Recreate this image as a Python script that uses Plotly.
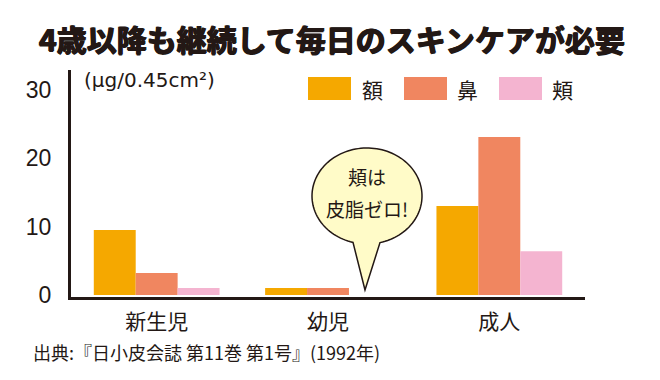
import numpy as np
import plotly.graph_objects as go

categories = ["新生児", "幼児", "成人"]
series_names = ["額", "鼻", "頬"]
forehead = [9.5, 1.0, 13.0]
nose = [3.2, 1.0, 23.1]
cheek = [1.0, 0.0, 6.4]
colors = ["#F5A800", "#F08660", "#F4B4D0"]
y_ticks = [0, 10, 20, 30]

title_text = "4歳以降も継続して毎日のスキンケアが必要"
unit_text = "(μg/0.45cm²)"
source_text = "出典:『日小皮会誌 第11巻 第1号』(1992年)"
bubble_lines = ["頬は", "皮脂ゼロ!"]

W, H = 660, 380
L, R, T, B = 71, 585, 70, 297
JP = "Noto Sans CJK JP"
INK = "#231815"


def px(x):
    return (x - L) / (R - L)


def py(y):
    return (B - y) / (B - T)


fig = go.Figure()
for name, vals, col in zip(series_names, [forehead, nose, cheek], colors):
    fig.add_trace(go.Bar(x=categories, y=vals, name=name, marker=dict(color=col, line=dict(width=0)),
                         showlegend=False))

shapes = []
annotations = []

# custom legend
leg_sw = [308, 404, 499]
leg_tx = [360, 455, 550]
for i, (name, col) in enumerate(zip(series_names, colors)):
    shapes.append(dict(type="rect", xref="paper", yref="paper",
                       x0=px(leg_sw[i]), x1=px(leg_sw[i] + 43), y0=py(100), y1=py(77),
                       fillcolor=col, line=dict(width=0)))
    annotations.append(dict(text=name, xref="paper", yref="paper", x=px(leg_tx[i]), y=py(89),
                            xanchor="left", yanchor="middle", showarrow=False,
                            font=dict(family=JP, size=21, color=INK)))

# speech bubble
cx, cy, rx, ry = 367, 196, 55, 48
tl = np.arccos((353 - cx) / rx)
tr = np.arccos((380 - cx) / rx)
th = np.linspace(tr, tl - 2 * np.pi, 120)
xs = cx + rx * np.cos(th)
ys = cy + ry * np.sin(th)
pts = [(px(a), py(b)) for a, b in zip(xs, ys)]
pts.append((px(365), py(290)))
path = "M " + " L ".join(f"{a:.5f},{b:.5f}" for a, b in pts) + " Z"
shapes.append(dict(type="path", xref="paper", yref="paper", path=path,
                   fillcolor="#FFFBC8", line=dict(color=INK, width=1.5), layer="above"))
annotations.append(dict(text=bubble_lines[0], xref="paper", yref="paper", x=px(367), y=py(176),
                        xanchor="center", yanchor="middle", showarrow=False,
                        font=dict(family=JP, size=19, color=INK)))
annotations.append(dict(text=bubble_lines[1], xref="paper", yref="paper", x=px(367), y=py(208),
                        xanchor="center", yanchor="middle", showarrow=False,
                        font=dict(family=JP, size=19, color=INK)))

# title, unit, source
annotations.append(dict(text=f"<b>{title_text}</b>", xref="paper", yref="paper", x=px(332), y=py(38),
                        xanchor="center", yanchor="middle", showarrow=False,
                        font=dict(family=JP, size=30, color=INK, weight=900,
                                  shadow=f"0.7px 0 0 {INK}, -0.7px 0 0 {INK}, 0 0.6px 0 {INK}")))
annotations.append(dict(text=unit_text, xref="paper", yref="paper", x=px(82), y=py(80),
                        xanchor="left", yanchor="middle", showarrow=False,
                        font=dict(family="DejaVu Sans", size=20, color=INK)))
annotations.append(dict(text=source_text, xref="paper", yref="paper", x=px(31), y=py(352),
                        xanchor="left", yanchor="middle", showarrow=False,
                        font=dict(family=JP, size=18, color=INK)))

fig.update_layout(
    width=W, height=H,
    margin=dict(l=L, r=W - R, t=T, b=H - B, pad=0),
    paper_bgcolor="white", plot_bgcolor="white",
    barmode="group", bargap=0.266, bargroupgap=0,
    shapes=shapes, annotations=annotations,
    xaxis=dict(showline=True, linewidth=3, linecolor=INK, ticks="", showgrid=False,
               tickfont=dict(family=JP, size=21, color=INK), ticklabelstandoff=4, range=[-0.5, 2.5]),
    yaxis=dict(showline=True, linewidth=3, linecolor=INK, ticks="", showgrid=False, zeroline=False,
               tickvals=y_ticks, range=[-0.3, 32.9],
               tickfont=dict(family="Liberation Sans", size=23, color=INK), ticklabelstandoff=12),
)

fig.write_html("out.html", config={"displayModeBar": False},
               post_script="document.body.style.margin='0';document.body.style.overflow='hidden';")
